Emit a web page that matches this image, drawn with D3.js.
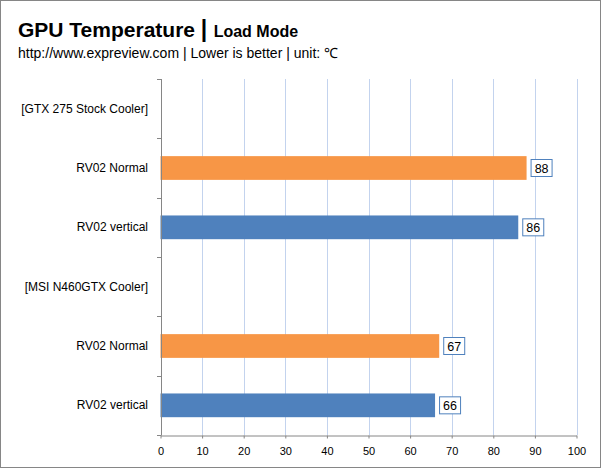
<!DOCTYPE html>
<html>
<head>
<meta charset="utf-8">
<title>GPU Temperature</title>
<script src="https://d3js.org/d3.v7.min.js"></script>
<style>
  body { margin: 0; background: #fff; }
  text { font-family: "Liberation Sans", Arial, sans-serif; }
</style>
</head>
<body>
<script>
// data
var categories = ["[GTX 275 Stock Cooler]", "RV02 Normal", "RV02 vertical", "[MSI N460GTX Cooler]", "RV02 Normal", "RV02 vertical"];
var values = [null, 88, 86, null, 67, 66];
var barColors = [null, "#f79646", "#4f81bd", null, "#f79646", "#4f81bd"];
var xTicks = [0, 10, 20, 30, 40, 50, 60, 70, 80, 90, 100];

var W = 601, H = 468;
var margin = {left: 160.5, right: 24.5, top: 79, bottom: 33};

var svg = d3.select("body").append("svg")
    .attr("width", W)
    .attr("height", H);

// outer frame
svg.append("rect")
    .attr("x", 0.5).attr("y", 0.5)
    .attr("width", W - 1).attr("height", H - 1)
    .attr("fill", "#fff")
    .attr("stroke", "#868686");

// titles
var title = svg.append("text").attr("x", 18).attr("y", 37).attr("fill", "#000");
title.append("tspan").attr("font-size", "21px").attr("font-weight", "bold").text("GPU Temperature ");
title.append("tspan").attr("font-size", "23px").attr("font-weight", "bold").text("| ");
title.append("tspan").attr("font-size", "16px").attr("font-weight", "bold").text("Load Mode");

svg.append("text")
    .attr("x", 18).attr("y", 58)
    .attr("font-size", "14px")
    .attr("fill", "#000")
    .text("http://www.expreview.com | Lower is better | unit: \u2103");

var x = d3.scaleLinear().domain([0, 100]).range([margin.left, W - margin.right]);
var y = d3.scaleBand().domain(d3.range(categories.length))
    .range([margin.top, H - margin.bottom])
    .paddingInner(0.6).paddingOuter(0.3);
var yOuter = d3.scaleBand().domain(d3.range(categories.length))
    .range([margin.top, H - margin.bottom]);

// gridlines
svg.selectAll(".grid")
    .data(xTicks.slice(1))
    .enter().append("line")
    .attr("class", "grid")
    .attr("x1", function(d){ return Math.round(x(d)) + 0.5; })
    .attr("x2", function(d){ return Math.round(x(d)) + 0.5; })
    .attr("y1", margin.top)
    .attr("y2", H - margin.bottom)
    .attr("stroke", "#c3d3ee")
    .attr("stroke-width", 1);

// bars
var rows = categories.map(function(c, i){ return {i: i, c: c, v: values[i], col: barColors[i]}; });
var withBars = rows.filter(function(d){ return d.v != null; });

svg.selectAll(".bar")
    .data(withBars)
    .enter().append("rect")
    .attr("class", "bar")
    .attr("x", x(0))
    .attr("y", function(d){ return y(d.i); })
    .attr("width", function(d){ return x(d.v) - x(0); })
    .attr("height", y.bandwidth())
    .attr("fill", function(d){ return d.col; });

// value labels with boxes
var lab = svg.selectAll(".vlab")
    .data(withBars)
    .enter().append("g")
    .attr("class", "vlab")
    .attr("transform", function(d){
        return "translate(" + (x(d.v) + 4) + "," + (y(d.i) + y.bandwidth() / 2) + ")";
    });
lab.append("rect")
    .attr("x", 0.5).attr("y", -8.5)
    .attr("width", 21).attr("height", 17)
    .attr("fill", "#fff")
    .attr("stroke", "#4f81bd");
lab.append("text")
    .attr("x", 11).attr("y", 4.5)
    .attr("text-anchor", "middle")
    .attr("font-size", "12.5px")
    .attr("fill", "#000")
    .text(function(d){ return d.v; });

// y axis
var yAxisG = svg.append("g");
yAxisG.append("line")
    .attr("x1", Math.round(x(0)) + 0.5).attr("x2", Math.round(x(0)) + 0.5)
    .attr("y1", margin.top).attr("y2", H - margin.bottom)
    .attr("stroke", "#868686");
yAxisG.selectAll(".ytick")
    .data(d3.range(categories.length + 1))
    .enter().append("line")
    .attr("x1", Math.round(x(0)) - 4).attr("x2", Math.round(x(0)) + 0.5)
    .attr("y1", function(d){ return Math.round(margin.top + d * yOuter.step()) + 0.5; })
    .attr("y2", function(d){ return Math.round(margin.top + d * yOuter.step()) + 0.5; })
    .attr("stroke", "#868686");
yAxisG.selectAll(".ylab")
    .data(rows)
    .enter().append("text")
    .attr("x", 148)
    .attr("y", function(d){ return yOuter(d.i) + yOuter.bandwidth() / 2 + 4; })
    .attr("text-anchor", "end")
    .attr("font-size", "12px")
    .attr("fill", "#000")
    .text(function(d){ return d.c; });

// x axis
var xAxisG = svg.append("g")
    .attr("transform", "translate(0," + (H - margin.bottom + 0.5) + ")")
    .call(d3.axisBottom(x).tickValues(xTicks).tickSize(3).tickSizeOuter(0));
xAxisG.select(".domain").attr("stroke", "#868686");
xAxisG.selectAll(".tick line").attr("stroke", "#868686");
xAxisG.selectAll(".tick text")
    .attr("font-size", "11px")
    .attr("font-family", "Liberation Sans, Arial, sans-serif")
    .attr("fill", "#000")
    .attr("y", 12);
</script>
</body>
</html>
